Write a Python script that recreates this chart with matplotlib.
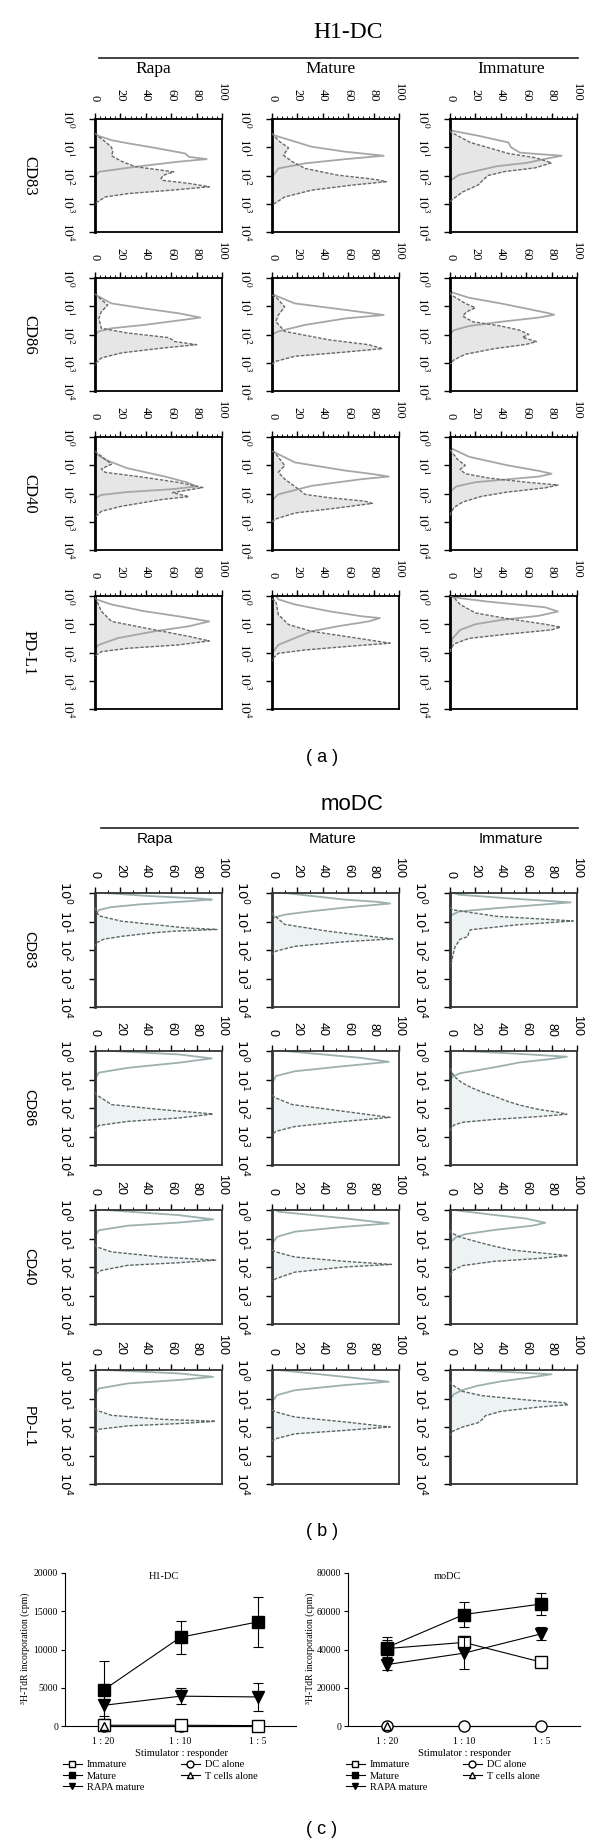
import matplotlib
matplotlib.use('Agg')
import matplotlib.pyplot as plt
import numpy as np
from matplotlib.lines import Line2D
from matplotlib.ticker import MultipleLocator, LogLocator, NullFormatter

plt.rcParams['font.family'] = ['Liberation Serif', 'DejaVu Serif']

# ---------------- data ----------------
columns = ['Rapa', 'Mature', 'Immature']
markers = ['CD83', 'CD86', 'CD40', 'PD-L1']

# each curve: (log10 fluorescence, % of max), one per marker CD83, CD86, CD40, PD-L1
# H1-DC, filled (stained) curves
h1_rapa_stain = [
    ([0.5, 0.6, 0.8, 1.0, 1.15, 1.3, 1.5, 1.69, 1.87, 1.99, 2.1, 2.17, 2.28, 2.4, 2.52, 2.64, 2.76, 2.96, 3.05],
     [0, 2, 8, 13, 14, 13, 21, 32, 62, 54, 52, 53, 74, 90, 60, 26, 8, 1, 0]),
    ([0.55, 0.61, 0.96, 1.19, 1.43, 1.78, 1.95, 2.11, 2.25, 2.36, 2.48, 2.65, 2.83, 3.0, 3.1],
     [0, 1, 10, 5, 3, 5, 26, 58, 63, 80, 53, 21, 5, 1, 0]),
    ([0.5, 0.54, 0.96, 1.13, 1.25, 1.43, 1.61, 1.79, 1.97, 2.11, 2.21, 2.45, 2.63, 2.8, 2.9],
     [0, 1, 13, 5, 8, 39, 66, 85, 61, 74, 53, 21, 5, 1, 0]),
    ([0.05, 0.12, 0.54, 0.9, 1.13, 1.25, 1.43, 1.59, 1.73, 1.85, 1.97, 2.09, 2.2],
     [0, 1, 5, 13, 39, 53, 74, 90, 66, 26, 5, 1, 0]),
]
h1_mature_stain = [
    ([0.5, 0.57, 0.8, 1.02, 1.15, 1.28, 1.51, 1.75, 1.99, 2.11, 2.16, 2.22, 2.34, 2.52, 2.76, 2.96, 3.05],
     [0, 1, 6, 13, 11, 9, 16, 26, 52, 76, 84, 90, 63, 31, 10, 3, 0]),
    ([0.6, 0.67, 1.02, 1.31, 1.54, 1.89, 2.19, 2.36, 2.5, 2.62, 2.77, 2.95, 3.05],
     [0, 3, 10, 5, 3, 10, 45, 76, 87, 58, 18, 3, 0]),
    ([0.5, 0.54, 1.01, 1.25, 1.49, 1.85, 2.03, 2.15, 2.27, 2.35, 2.51, 2.69, 2.9, 3.0],
     [0, 2, 10, 5, 10, 21, 26, 45, 73, 79, 52, 18, 3, 0]),
    ([0.1, 0.18, 0.66, 1.01, 1.25, 1.43, 1.67, 1.79, 1.91, 2.03, 2.2, 2.3],
     [0, 3, 5, 13, 31, 58, 93, 58, 26, 5, 1, 0]),
]
h1_immature_stain = [
    ([0.4, 0.47, 0.83, 1.22, 1.37, 1.55, 1.73, 1.86, 2.0, 2.16, 2.34, 2.58, 2.88, 3.0],
     [0, 1, 16, 46, 67, 80, 67, 43, 30, 26, 22, 10, 1, 0]),
    ([0.5, 0.6, 0.9, 1.05, 1.2, 1.35, 1.55, 1.7, 1.85, 2.0, 2.1, 2.25, 2.35, 2.5, 2.7, 2.9, 3.05],
     [0, 1, 12, 20, 13, 10, 18, 40, 55, 62, 57, 68, 60, 35, 12, 3, 0]),
    ([0.45, 0.5, 0.8, 1.0, 1.15, 1.3, 1.45, 1.6, 1.7, 1.8, 1.95, 2.1, 2.3, 2.5, 2.7, 2.8],
     [0, 1, 6, 12, 8, 12, 30, 60, 85, 75, 45, 25, 10, 3, 0.5, 0]),
    ([0.0, 0.05, 0.3, 0.6, 0.8, 1.0, 1.1, 1.2, 1.35, 1.5, 1.7, 1.9, 2.0],
     [0, 3, 8, 20, 45, 75, 87, 80, 45, 15, 3, 0.5, 0]),
]
# H1-DC, open (control) curves
h1_rapa_iso = [
    ([0.5, 0.57, 0.75, 0.86, 1.02, 1.22, 1.34, 1.42, 1.51, 1.69, 1.87, 2.05],
     [0, 1, 13, 26, 47, 71, 74, 88, 66, 32, 3, 0]),
    ([0.55, 0.61, 0.9, 1.08, 1.25, 1.4, 1.49, 1.66, 1.78, 1.89, 2.0],
     [0, 1, 13, 39, 66, 83, 68, 39, 13, 3, 0]),
    ([0.55, 0.6, 0.8, 1.1, 1.4, 1.6, 1.75, 1.85, 1.95, 2.05, 2.15, 2.25],
     [0, 1, 8, 25, 55, 72, 80, 60, 25, 5, 1, 0]),
    ([0.05, 0.12, 0.3, 0.54, 0.72, 0.9, 1.07, 1.25, 1.49, 1.73, 1.85],
     [0, 1, 13, 39, 66, 90, 74, 47, 18, 3, 0]),
]
h1_mature_iso = [
    ([0.5, 0.57, 0.69, 0.98, 1.16, 1.3, 1.42, 1.57, 1.75, 2.0, 2.1],
     [0, 1, 10, 31, 58, 88, 58, 26, 5, 1, 0]),
    ([0.55, 0.61, 0.9, 1.13, 1.31, 1.43, 1.66, 1.89, 2.0],
     [0, 2, 18, 58, 88, 58, 26, 5, 0]),
    ([0.5, 0.54, 0.9, 1.19, 1.31, 1.4, 1.49, 1.73, 2.03, 2.2, 2.3],
     [0, 2, 18, 58, 79, 92, 71, 31, 5, 1, 0]),
    ([0.0, 0.12, 0.3, 0.54, 0.72, 0.78, 0.9, 1.07, 1.25, 1.49, 1.73, 1.97, 2.1],
     [3, 5, 18, 45, 71, 85, 76, 52, 31, 18, 5, 1, 0]),
]
h1_immature_iso = [
    ([0.35, 0.41, 0.59, 0.83, 1.0, 1.19, 1.25, 1.3, 1.43, 1.55, 1.67, 1.98, 2.16, 2.25],
     [0, 1, 22, 46, 48, 55, 72, 88, 73, 61, 37, 7, 1, 0]),
    ([0.45, 0.5, 0.7, 0.9, 1.1, 1.25, 1.3, 1.4, 1.55, 1.7, 1.85, 2.0],
     [0, 1, 15, 40, 62, 78, 82, 70, 40, 15, 3, 0]),
    ([0.35, 0.4, 0.7, 1.0, 1.2, 1.3, 1.4, 1.5, 1.6, 1.75, 1.9, 2.0],
     [0, 1, 15, 45, 70, 80, 70, 45, 20, 5, 1, 0]),
    ([0.0, 0.05, 0.2, 0.4, 0.55, 0.7, 0.85, 1.0, 1.2, 1.5, 1.8, 1.9],
     [0, 3, 30, 75, 85, 70, 40, 20, 8, 2, 0.5, 0]),
]

# moDC, filled (stained) curves
mo_rapa_stain = [
    ([0.5, 0.6, 0.8, 0.99, 1.1, 1.22, 1.28, 1.34, 1.4, 1.52, 1.62, 1.75, 1.85],
     [0, 0.5, 3, 21, 45, 70, 96, 62, 45, 21, 7, 1, 0]),
    ([1.45, 1.53, 1.88, 2.06, 2.21, 2.35, 2.47, 2.61, 2.76, 2.85],
     [0, 1, 13, 53, 93, 66, 26, 3, 0.5, 0]),
    ([1.2, 1.29, 1.47, 1.65, 1.76, 1.85, 1.94, 2.12, 2.24, 2.35],
     [0, 1, 13, 53, 95, 66, 26, 5, 1, 0]),
    ([1.35, 1.41, 1.59, 1.73, 1.8, 1.88, 1.96, 2.08, 2.24, 2.3],
     [0, 1, 13, 53, 95, 66, 26, 3, 0.5, 0]),
]
mo_mature_stain = [
    ([0.7, 0.76, 1.1, 1.34, 1.55, 1.61, 1.71, 1.87, 2.04, 2.15],
     [0, 1, 10, 44, 83, 95, 57, 18, 3, 0]),
    ([1.55, 1.65, 1.88, 2.12, 2.33, 2.47, 2.65, 2.82, 2.95],
     [0, 3, 16, 57, 93, 57, 18, 3, 0]),
    ([1.4, 1.47, 1.65, 1.8, 1.91, 2.0, 2.18, 2.41, 2.5],
     [0, 3, 18, 57, 94, 57, 18, 3, 0]),
    ([1.4, 1.47, 1.65, 1.82, 2.0, 2.12, 2.24, 2.41, 2.5],
     [0, 3, 18, 57, 93, 57, 18, 3, 0]),
]
mo_immature_stain = [
    ([0.5, 0.59, 0.82, 0.98, 1.12, 1.29, 1.35, 1.53, 1.62, 1.88, 2.24, 2.47, 2.6],
     [0, 2, 37, 97, 52, 16, 15, 14, 8, 4, 2, 1, 0]),
    ([0.6, 0.7, 0.88, 1.1, 1.29, 1.45, 1.59, 1.76, 1.9, 2.05, 2.15, 2.22, 2.3, 2.4, 2.5, 2.6, 2.75, 2.85],
     [0, 1, 3, 9, 17, 26, 35, 45, 55, 70, 85, 92, 70, 35, 10, 3, 0.5, 0]),
    ([0.7, 0.8, 0.95, 1.1, 1.25, 1.4, 1.5, 1.6, 1.7, 1.8, 1.95, 2.1, 2.25, 2.35],
     [0, 1, 8, 20, 33, 48, 70, 93, 70, 35, 10, 3, 0.5, 0]),
    ([0.4, 0.5, 0.75, 0.9, 1.05, 1.15, 1.22, 1.3, 1.45, 1.6, 1.75, 1.85, 2.0, 2.15, 2.3],
     [0, 1, 10, 25, 60, 90, 93, 70, 40, 28, 25, 22, 10, 2, 0]),
]
# moDC, open (control) curves
mo_rapa_iso = [
    ([0.0, 0.1, 0.2, 0.23, 0.3, 0.4, 0.5, 0.6, 0.75, 0.85],
     [8, 40, 85, 92, 70, 35, 12, 3, 0.5, 0]),
    ([0.0, 0.12, 0.26, 0.41, 0.59, 0.76, 0.94, 1.0],
     [13, 66, 92, 66, 26, 3, 0.5, 0]),
    ([0.0, 0.18, 0.33, 0.44, 0.55, 0.71, 0.88, 0.95],
     [8, 66, 93, 66, 26, 3, 0.5, 0]),
    ([0.0, 0.12, 0.24, 0.35, 0.47, 0.65, 0.82, 0.9],
     [8, 66, 93, 66, 26, 3, 0.5, 0]),
]
mo_mature_iso = [
    ([0.0, 0.23, 0.31, 0.37, 0.5, 0.64, 0.76, 0.87, 0.95],
     [10, 57, 83, 93, 60, 31, 10, 1, 0]),
    ([0.0, 0.24, 0.38, 0.53, 0.71, 0.88, 1.06, 1.15],
     [10, 70, 92, 57, 18, 3, 1, 0]),
    ([0.0, 0.06, 0.29, 0.47, 0.59, 0.76, 0.94, 1.12, 1.2],
     [3, 5, 57, 92, 57, 18, 4, 1, 0]),
    ([0.0, 0.24, 0.41, 0.53, 0.71, 0.88, 1.06, 1.15],
     [5, 57, 92, 57, 18, 4, 1, 0]),
]
mo_immature_iso = [
    ([0.0, 0.06, 0.2, 0.33, 0.45, 0.53, 0.65, 0.76, 0.85],
     [3, 7, 50, 95, 60, 37, 7, 2, 0]),
    ([0.0, 0.1, 0.2, 0.28, 0.4, 0.53, 0.65, 0.78, 0.9, 1.0, 1.1],
     [10, 55, 92, 80, 55, 40, 25, 8, 2, 0.5, 0]),
    ([0.0, 0.15, 0.3, 0.45, 0.55, 0.7, 0.85, 0.95, 1.1, 1.2],
     [3, 30, 60, 75, 65, 35, 12, 5, 1, 0]),
    ([0.0, 0.08, 0.15, 0.25, 0.4, 0.55, 0.7, 0.85, 1.0, 1.1],
     [15, 50, 80, 65, 40, 22, 10, 3, 0.5, 0]),
]

# proliferation (panel c)
ratios = ['1 : 20', '1 : 10', '1 : 5']
h1_immature = [100, 100, 50]
h1_immature_err = [700, 150, 100]
h1_mature = [4700, 11600, 13600]
h1_mature_err = [3800, 2150, 3300]
h1_rapa = [2700, 3900, 3800]
h1_rapa_err = [1350, 1050, 1850]
h1_dc_alone = [0, 0, 0]
h1_t_alone = [0]
mo_immature = [40500, 43700, 33400]
mo_immature_err = [4500, 3100, 500]
mo_mature = [41000, 58300, 63800]
mo_mature_err = [5400, 6600, 6000]
mo_rapa = [32100, 38100, 48200]
mo_rapa_err = [2800, 8500, 3400]
mo_dc_alone = [0, 0, 0]
mo_t_alone = [0]

# ---------------- figure ----------------
W, H = 600, 1847
fig = plt.figure(figsize=(W / 100, H / 100), dpi=100)


def rect(x, y, w, h):
    return [x / W, 1 - (y + h) / H, w / W, h / H]


def ftext(x, y, s, **kw):
    fig.text(x / W, 1 - y / H, s, ha=kw.pop('ha', 'center'), va=kw.pop('va', 'center'), **kw)


def fline(x0, x1, y):
    fig.add_artist(Line2D([x0 / W, x1 / W], [1 - y / H] * 2, transform=fig.transFigure,
                          color='#222222', lw=1.2))


col_x = [95, 272, 450]
box_w = 127


def histo(ax, stain, iso, style):
    sl, sp = stain
    il, ip = iso
    ys = 10 ** np.array(sl)
    yi = 10 ** np.array(il)
    ax.fill_betweenx(ys, 0, sp, color=style['fill'], lw=0, zorder=1)
    ax.plot(ip, yi, color=style['light'], lw=1.3, zorder=2)
    ax.plot(sp, ys, color=style['dark'], lw=1.0, ls=(0, (2.5, 1.2)), zorder=3)
    ax.set_xlim(0, 100)
    ax.set_yscale('log')
    ax.set_ylim(1e4, 1)
    ax.xaxis.tick_top()
    ax.set_xticks(range(0, 101, 20))
    ax.xaxis.set_minor_locator(MultipleLocator(style['minor']))
    ax.set_yticks([1, 10, 100, 1000, 10000])
    ax.yaxis.set_minor_locator(LogLocator(base=10, subs=np.arange(2, 10)))
    ax.yaxis.set_minor_formatter(NullFormatter())
    ax.set_xticklabels([str(v) for v in range(0, 101, 20)], rotation=270,
                       family=style['font'], fontsize=9)
    ax.set_yticklabels([r'$10^{%d}$' % k for k in range(5)], rotation=270, va='center',
                       math_fontfamily=style['math'], fontsize=9.5)
    ax.tick_params(axis='x', which='major', direction='out', length=4, width=1, pad=style['xpad'])
    ax.tick_params(axis='y', which='major', direction='out', length=4, width=1, pad=style['ypad'])
    ax.tick_params(which='minor', direction='out', length=2, width=0.7)
    for name, sp_ in ax.spines.items():
        sp_.set_color(style['box'])
        sp_.set_linewidth(2.0 if name == 'left' else 1.3)


style_a = dict(fill='#e6e6e6', dark='#6a6a6a', light='#a6a6a6', minor=4, font='Liberation Serif',
               math='stix', xpad=8.5, ypad=10, box='black')
style_b = dict(fill='#edf3f3', dark='#5c6868', light='#9db0b0', minor=10, font='Liberation Sans',
               math='dejavusans', xpad=6.5, ypad=11.5, box='#333333')

sections = [
    (style_a, [119, 278, 437, 596], 113,
     [h1_rapa_stain, h1_mature_stain, h1_immature_stain],
     [h1_rapa_iso, h1_mature_iso, h1_immature_iso]),
    (style_b, [893, 1051, 1210, 1370], 114,
     [mo_rapa_stain, mo_mature_stain, mo_immature_stain],
     [mo_rapa_iso, mo_mature_iso, mo_immature_iso]),
]

for style, tops, box_h, stains, isos in sections:
    for r, top in enumerate(tops):
        for c, x0 in enumerate(col_x):
            ax = fig.add_axes(rect(x0, top, box_w, box_h))
            histo(ax, stains[c][r], isos[c][r], style)
        ftext(29, top + box_h / 2, markers[r], rotation=270, family=style['font'],
              fontsize=12 if style is style_a else 10.5)

# section headings
ftext(348, 33, 'H1-DC', fontsize=17, family='Liberation Serif')
fline(99, 578, 58)
for name, x in zip(columns, [153, 331, 511]):
    ftext(x, 69, name, fontsize=12.5, family='Liberation Serif')

ftext(352, 805, 'moDC', fontsize=16, family='Liberation Sans')
fline(101, 578, 828)
for name, x in zip(columns, [155, 333, 511]):
    ftext(x, 839, name, fontsize=11, family='Liberation Sans')

ftext(322, 757, '( a )', fontsize=13, family='Liberation Sans')
ftext(322, 1532, '( b )', fontsize=13, family='Liberation Sans')
ftext(322, 1830, '( c )', fontsize=13, family='Liberation Sans')

# ---------------- panel c ----------------
xs = np.arange(len(ratios))


def growth(ax, title, ymax, imm, imm_e, mat, mat_e, rap, rap_e, dc, tc):
    kw = dict(color='black', lw=0.8, ms=8, mec='black', capsize=3.5, elinewidth=0.8,
              capthick=0.8, clip_on=False)
    ax.errorbar(xs, dc, marker='o', mfc='white', zorder=3, **kw)
    ax.errorbar(xs, imm, yerr=imm_e, marker='s', mfc='white', zorder=4, **kw)
    ax.errorbar(xs[:len(tc)], tc, marker='^', mfc='none', ms=6, color='black', lw=0.8,
                mec='black', clip_on=False, zorder=5)
    ax.errorbar(xs, rap, yerr=rap_e, marker='v', mfc='black', zorder=5, **kw)
    ax.errorbar(xs, mat, yerr=mat_e, marker='s', mfc='black', zorder=6, **kw)
    ax.set_xlim(-0.5, 2.5)
    ax.set_ylim(0, ymax)
    ticks = np.linspace(0, ymax, 5).astype(int)
    ax.set_yticks(ticks)
    ax.set_yticklabels([str(t) for t in ticks])
    ax.set_xticks(xs)
    ax.set_xticklabels(ratios)
    ax.tick_params(axis='y', direction='out', length=3, width=0.8, labelsize=7, pad=2)
    ax.tick_params(axis='x', length=0, labelsize=7, pad=8)
    for s in ['top', 'right']:
        ax.spines[s].set_visible(False)
    for s in ['left', 'bottom']:
        ax.spines[s].set_linewidth(0.8)
    ax.text(0.43, 0.98, title, transform=ax.transAxes, ha='center', va='center', fontsize=7.5)


ax_h1 = fig.add_axes(rect(65, 1573, 231, 153))
growth(ax_h1, 'H1-DC', 20000, h1_immature, h1_immature_err, h1_mature, h1_mature_err,
       h1_rapa, h1_rapa_err, h1_dc_alone, h1_t_alone)
ax_mo = fig.add_axes(rect(348, 1573, 232, 153))
growth(ax_mo, 'moDC', 80000, mo_immature, mo_immature_err, mo_mature, mo_mature_err,
       mo_rapa, mo_rapa_err, mo_dc_alone, mo_t_alone)

for x_lab, x_x in [(25, 181), (310, 465)]:
    ftext(x_lab, 1648, '³H-TdR incorporation (cpm)', rotation=90, fontsize=7)
    ftext(x_x, 1754, 'Stimulator : responder', fontsize=7.5)

leg_kw = dict(color='black', lw=0.8, mec='black', ms=5)
h_imm = Line2D([], [], marker='s', mfc='white', **leg_kw)
h_mat = Line2D([], [], marker='s', mfc='black', **leg_kw)
h_rap = Line2D([], [], marker='v', mfc='black', **leg_kw)
h_dc = Line2D([], [], marker='o', mfc='white', **leg_kw)
h_tc = Line2D([], [], marker='^', mfc='white', **leg_kw)

for left, right in [(63, 181), (346, 463)]:
    for x0, hs, labs in [(left, [h_imm, h_mat, h_rap], ['Immature', 'Mature', 'RAPA mature']),
                         (right, [h_dc, h_tc], ['DC alone', 'T cells alone'])]:
        fig.legend(hs, labs, loc='upper left', bbox_to_anchor=(x0 / W, 1 - 1760 / H),
                   frameon=False, fontsize=7.5, handlelength=1.8, handletextpad=0.5,
                   labelspacing=0.2, borderpad=0, borderaxespad=0)

fig.savefig('out.png', dpi=100)
